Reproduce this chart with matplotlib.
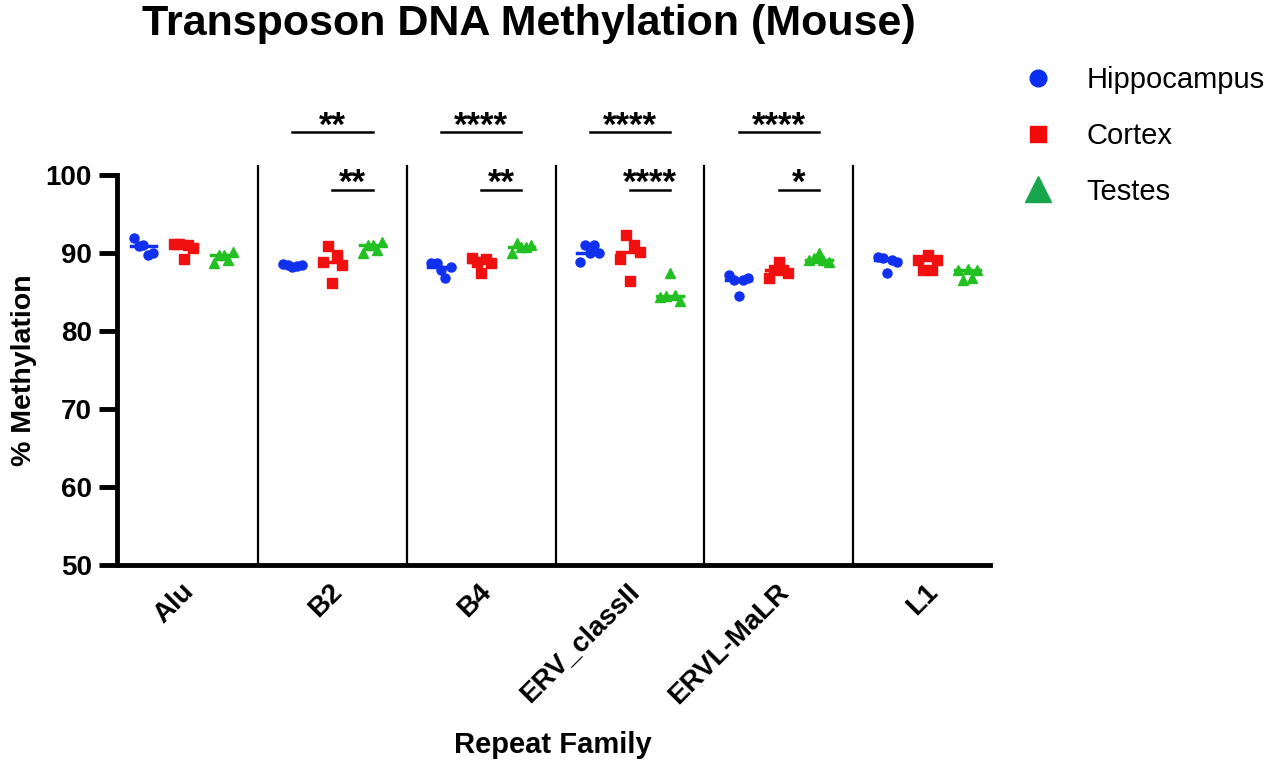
import numpy as np
import matplotlib.pyplot as plt
from matplotlib.lines import Line2D

plt.rcParams['font.family'] = ['Liberation Sans', 'DejaVu Sans']

families = ["Alu", "B2", "B4", "ERV_classII", "ERVL-MaLR", "L1"]
tissues = ["Hippocampus", "Cortex", "Testes"]

# % methylation per replicate (5 animals)
hippocampus = [
    [91.9, 90.9, 91.0, 89.7, 90.0],
    [88.6, 88.4, 88.2, 88.3, 88.5],
    [88.7, 88.7, 87.8, 86.8, 88.2],
    [88.9, 91.0, 90.0, 91.0, 90.0],
    [87.2, 86.6, 84.5, 86.5, 86.8],
    [89.5, 89.3, 87.4, 89.1, 88.9],
]
cortex = [
    [91.2, 91.1, 89.2, 91.0, 90.6],
    [88.8, 90.9, 86.2, 89.7, 88.5],
    [89.3, 88.9, 87.5, 89.2, 88.7],
    [89.2, 92.3, 86.4, 91.0, 90.1],
    [86.8, 87.8, 88.9, 87.8, 87.4],
    [89.1, 87.8, 89.7, 87.8, 89.1],
]
testes = [
    [88.7, 89.7, 89.8, 89.1, 90.1],
    [90.0, 91.0, 91.0, 90.4, 91.4],
    [90.0, 91.3, 90.8, 90.8, 91.0],
    [84.3, 84.5, 87.4, 84.6, 83.9],
    [89.1, 89.3, 90.0, 89.1, 88.9],
    [87.8, 86.5, 87.9, 86.8, 87.8],
]

# significance annotations vs Testes: family index, compared tissue, label
sig_family = [1, 1, 2, 2, 3, 3, 4, 4]
sig_from = [0, 1, 0, 1, 0, 1, 0, 1]
sig_label = ["**", "**", "****", "**", "****", "****", "****", "*"]

colors = ['#1030F0', '#F01010', '#22C022']
markers = ['o', 's', '^']
offsets = [-0.27, 0.0, 0.27]
jitter = np.array([-0.065, -0.03, 0.0, 0.03, 0.065])

fig = plt.figure(figsize=(12.8, 7.65), dpi=100)
ax = fig.add_axes([117 / 1280, 1 - 565 / 765, (990 - 117) / 1280, 390 / 765])

for t, series in enumerate([hippocampus, cortex, testes]):
    for i, vals in enumerate(series):
        xc = i + offsets[t]
        ax.plot(xc + jitter, vals, linestyle='none', marker=markers[t],
                color=colors[t], markersize=6.5, clip_on=False, zorder=3)
        med = np.median(vals)
        ax.plot([xc - 0.085, xc + 0.085], [med, med], color=colors[t], lw=2.5, zorder=2)

# group separators
for i in range(len(families) - 1):
    ax.plot([i + 0.5, i + 0.5], [50, 101.2], color='black', lw=1.6, clip_on=False)

# significance bars
for f, s, lab in zip(sig_family, sig_from, sig_label):
    x0 = f + offsets[s]
    x1 = f + offsets[2]
    y = 105.5 if s == 0 else 98.1
    ax.plot([x0, x1], [y, y], color='black', lw=1.8, clip_on=False)
    ax.text((x0 + x1) / 2, y - 0.45, lab, ha='center', va='baseline',
            fontsize=25, fontweight='bold')

ax.set_xlim(-0.448, 5.42)
ax.set_ylim(50, 100)
ax.set_yticks([50, 60, 70, 80, 90, 100])
ax.set_xticks(range(len(families)))
ax.set_xticklabels([])
# rotated category labels, placed a little left of each tick like the original
for i, name in enumerate(families):
    ax.text(i - 0.02, -0.035, name, transform=ax.get_xaxis_transform(),
            rotation=45, ha='right', va='top', rotation_mode='anchor',
            fontsize=20, fontweight='bold')
for lab in ax.get_yticklabels():
    lab.set_fontweight('bold')
    lab.set_fontsize(20)
ax.tick_params(axis='y', length=13, width=3.5, pad=5)
ax.tick_params(axis='x', length=0)
for side in ['top', 'right']:
    ax.spines[side].set_visible(False)
for side in ['left', 'bottom']:
    ax.spines[side].set_linewidth(3.5)

ax.set_ylabel('% Methylation', fontsize=20.5, fontweight='bold', labelpad=6)
fig.text(553 / 1280, 1 - 745 / 765, 'Repeat Family', ha='center', va='center',
         fontsize=21, fontweight='bold')

fig.text(529 / 1280, 1 - 24 / 765, 'Transposon DNA Methylation (Mouse)',
         ha='center', va='center', fontsize=31, fontweight='bold')

legend_colors = ['#0A2EF0', '#F00A0A', '#18A64C']
legend_sizes = [12, 11, 19]
handles = [Line2D([], [], linestyle='none', marker=markers[t], color=legend_colors[t],
                  markersize=legend_sizes[t]) for t in range(3)]
fig.legend(handles, tissues, loc='upper left', bbox_to_anchor=(990 / 1280, 1 - 40 / 765),
           frameon=False, fontsize=21, labelspacing=0.95, handletextpad=0.9,
           handlelength=1.5)

fig.savefig('out.png', dpi=100)
